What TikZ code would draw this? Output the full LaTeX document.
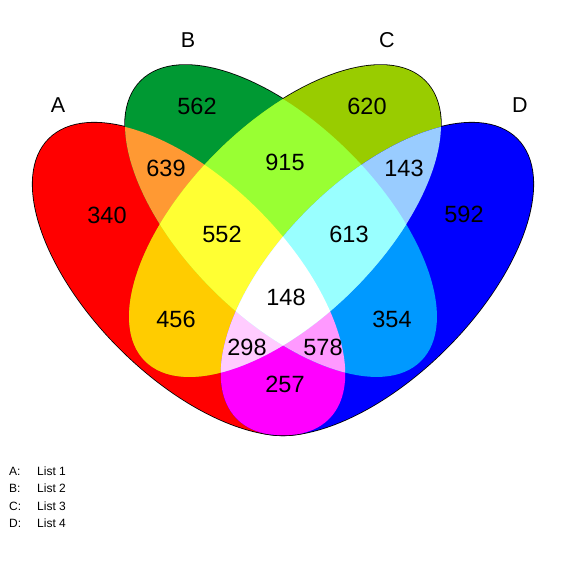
\documentclass[tikz,border=0pt]{standalone}
\usepackage{fontspec}
\setmainfont{Liberation Sans}
\definecolor{colA}{HTML}{FF0000}
\definecolor{colB}{HTML}{009933}
\definecolor{colC}{HTML}{99CC00}
\definecolor{colD}{HTML}{0000FF}
\definecolor{colAB}{HTML}{FF9933}
\definecolor{colAC}{HTML}{FFCC00}
\definecolor{colAD}{HTML}{FF00FF}
\definecolor{colBC}{HTML}{99FF33}
\definecolor{colBD}{HTML}{0099FF}
\definecolor{colCD}{HTML}{99CCFF}
\definecolor{colABC}{HTML}{FFFF33}
\definecolor{colABD}{HTML}{FF99FF}
\definecolor{colACD}{HTML}{FFCCFF}
\definecolor{colBCD}{HTML}{99FFFF}
\definecolor{colABCD}{HTML}{FFFFFF}
% the four sets
\def\setA{[rotate around={-45:(189,291)}] (189,291) ellipse [x radius=198, y radius=98]}
\def\setB{[rotate around={-45:(281,349)}] (281,349) ellipse [x radius=198, y radius=97]}
\def\setC{[rotate around={45:(285,349)}] (285,349) ellipse [x radius=198, y radius=97]}
\def\setD{[rotate around={45:(377,291)}] (377,291) ellipse [x radius=198, y radius=98]}
\begin{document}
\begin{tikzpicture}[x=1pt, y=1pt,
  num/.style={font=\fontsize{23.5}{28}\selectfont, inner sep=0pt},
  setname/.style={font=\fontsize{21.5}{26}\selectfont, inner sep=0pt},
  legend/.style={font=\fontsize{12}{14}\selectfont, anchor=west, inner sep=0pt}
]
\useasboundingbox (0,0) rectangle (570,570);

% outlines first, fills cover the inner half
\draw[line width=1.6pt] \setA;
\draw[line width=1.6pt] \setB;
\draw[line width=1.6pt] \setC;
\draw[line width=1.6pt] \setD;

% single sets
\fill[colA] \setA;
\fill[colB] \setB;
\fill[colC] \setC;
\fill[colD] \setD;

% pairs
\begin{scope} \clip \setA; \fill[colAB] \setB; \end{scope}
\begin{scope} \clip \setA; \fill[colAC] \setC; \end{scope}
\begin{scope} \clip \setA; \fill[colAD] \setD; \end{scope}
\begin{scope} \clip \setB; \fill[colBC] \setC; \end{scope}
\begin{scope} \clip \setB; \fill[colBD] \setD; \end{scope}
\begin{scope} \clip \setC; \fill[colCD] \setD; \end{scope}

% triples
\begin{scope} \clip \setA; \clip \setB; \fill[colABC] \setC; \end{scope}
\begin{scope} \clip \setA; \clip \setB; \fill[colABD] \setD; \end{scope}
\begin{scope} \clip \setA; \clip \setC; \fill[colACD] \setD; \end{scope}
\begin{scope} \clip \setB; \clip \setC; \fill[colBCD] \setD; \end{scope}

% all four
\begin{scope} \clip \setA; \clip \setB; \clip \setC; \fill[colABCD] \setD; \end{scope}

% set names
\node[setname] (nA) at (58,465) {A};
\node[setname] (nB) at (188,530) {B};
\node[setname] (nC) at (387,530) {C};
\node[setname] (nD) at (520,465) {D};

% region counts
\node[num] (rA) at (107,355) {340};
\node[num] (rB) at (197,464) {562};
\node[num] (rC) at (367,464) {620};
\node[num] (rD) at (464,356) {592};
\node[num] (rAB) at (166,402) {639};
\node[num] (rBC) at (285,408) {915};
\node[num] (rCD) at (404,402) {143};
\node[num] (rABC) at (222,336) {552};
\node[num] (rBCD) at (349,336) {613};
\node[num] (rAC) at (176,251) {456};
\node[num] (rBD) at (392,251) {354};
\node[num] (rABCD) at (286,273) {148};
\node[num] (rACD) at (247,223) {298};
\node[num] (rABD) at (323,223) {578};
\node[num] (rAD) at (285,186) {257};

% legend
\node[legend] (kA) at (9,99) {A:};
\node[legend] (kB) at (9,82) {B:};
\node[legend] (kC) at (9,64) {C:};
\node[legend] (kD) at (9,47) {D:};
\node[legend] (lA) at (37,99) {List 1};
\node[legend] (lB) at (37,82) {List 2};
\node[legend] (lC) at (37,64) {List 3};
\node[legend] (lD) at (37,47) {List 4};
\end{tikzpicture}
\end{document}
